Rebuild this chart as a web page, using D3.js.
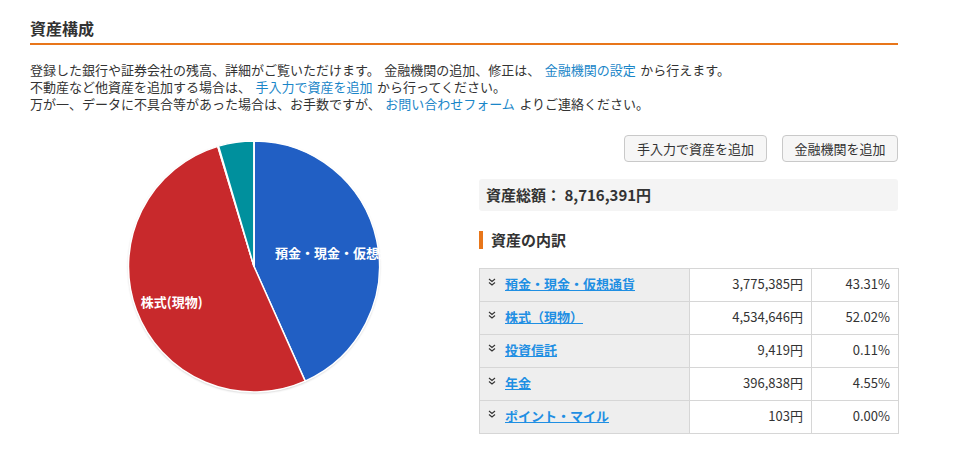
<!DOCTYPE html>
<html>
<head>
<meta charset="utf-8">
<script src="https://cdn.jsdelivr.net/npm/d3@7"></script>
<style>
  html, body { margin: 0; padding: 0; background: #fff; }
  body { width: 968px; height: 467px; position: relative; overflow: hidden;
         font-family: "Noto Sans CJK JP", "Noto Sans", sans-serif; color: #333; }
  .abs { position: absolute; }
  .title { left: 30px; top: 16px; font-size: 16px; font-weight: bold; line-height: 24px; color: #333; }
  .rule { left: 30px; top: 43px; width: 868px; height: 2px; background: #e8761a; }
  .desc { left: 30px; font-size: 13px; line-height: 17px; height: 17px; white-space: pre; }
  .desc span.lk { color: #1a86c8; }
  .desc span.gap { display: inline-block; width: 4.5px; }
  .btn { top: 135px; height: 25px; border: 1px solid #c9c9c9; border-radius: 4px; background: #f6f6f6;
         font-size: 13px; line-height: 25px; text-align: center; box-sizing: content-box; }
  .total { left: 479px; top: 179px; width: 419px; height: 32px; background: #f4f4f4; border-radius: 3px;
           font-size: 15px; font-weight: bold; line-height: 32px; }
  .total span { padding-left: 7px; }
  .sub { left: 479px; top: 231px; height: 18px; border-left: 4px solid #e8761a; padding-left: 8px;
         font-size: 15px; font-weight: bold; line-height: 18px; }
  table { position: absolute; left: 479px; top: 268px; border-collapse: collapse; font-size: 13px; }
  td { border: 1px solid #d6d6d6; height: 33px; padding: 0 0 3px 0; box-sizing: border-box; line-height: 17px; }
  td.c1 { width: 210px; background: #eeeeee; padding-left: 8px; white-space: nowrap; }
  td.c2 { width: 122px; text-align: right; padding-right: 8px; }
  td.c3 { width: 87px; text-align: right; padding-right: 8px; }
  svg.chev { display: inline-block; vertical-align: baseline; margin-right: 9px; position: relative; top: -3px; }
  td a { color: #1f8fe3; font-weight: bold; text-decoration: underline; }
</style>
</head>
<body>
<script>
// ---- data ----
const categories = ["預金・現金・仮想通貨", "株式（現物）", "投資信託", "年金", "ポイント・マイル"];
const pieLabels = ["預金・現金・仮想通貨", "株式(現物)", "投資信託", "年金", "ポイント・マイル"];
const amounts = [3775385, 4534646, 9419, 396838, 103];
const percents = ["43.31%", "52.02%", "0.11%", "4.55%", "0.00%"];
const totalAmount = 8716391;
const sliceColors = ["#215fc4", "#c8292c", "#f0a020", "#00909d", "#7b3fa0"];

const fmt = d3.format(",");
const body = d3.select("body");

// ---- header ----
body.append("div").attr("class", "abs title").text("資産構成");
body.append("div").attr("class", "abs rule");
const descLines = [
  [{t: "登録した銀行や証券会社の残高、詳細がご覧いただけます。"}, {g: 1}, {t: "金融機関の追加、修正は、"}, {g: 1},
   {t: "金融機関の設定", l: 1}, {g: 1}, {t: "から行えます。"}],
  [{t: "不動産など他資産を追加する場合は、"}, {g: 1}, {t: "手入力で資産を追加", l: 1}, {g: 1}, {t: "から行ってください。"}],
  [{t: "万が一、データに不具合等があった場合は、お手数ですが、"}, {g: 1}, {t: "お問い合わせフォーム", l: 1}, {g: 1},
   {t: "よりご連絡ください。"}]
];
body.selectAll("div.desc").data(descLines).enter().append("div")
  .attr("class", "abs desc")
  .style("top", (d, i) => (61 + i * 17) + "px")
  .selectAll("span").data(d => d).enter().append("span")
  .attr("class", d => d.g ? "gap" : (d.l ? "lk" : "tx"))
  .text(d => d.t || "");

// ---- buttons ----
const buttons = [{t: "手入力で資産を追加", x: 624, w: 141}, {t: "金融機関を追加", x: 782, w: 114}];
body.selectAll("div.btn").data(buttons).enter().append("div")
  .attr("class", "abs btn")
  .style("left", d => d.x + "px").style("width", d => d.w + "px")
  .text(d => d.t);

// ---- total ----
body.append("div").attr("class", "abs total").append("span")
  .text("資産総額： " + fmt(totalAmount) + "円");
body.append("div").attr("class", "abs sub").text("資産の内訳");

// ---- table ----
const rows = d3.select("body").append("table").selectAll("tr")
  .data(categories.map((c, i) => ({c, a: amounts[i], p: percents[i]})))
  .enter().append("tr");
const c1 = rows.append("td").attr("class", "c1");
const ch = c1.append("svg").attr("class", "chev").attr("width", 8).attr("height", 8);
ch.append("path").attr("d", "M1,1 L4,3.5 L7,1 M1,4.5 L4,7 L7,4.5")
  .attr("fill", "none").attr("stroke", "#333").attr("stroke-width", 1.1);
c1.append("a").text(d => d.c);
rows.append("td").attr("class", "c2").text(d => fmt(d.a) + "円");
rows.append("td").attr("class", "c3").text(d => d.p);

// ---- pie ----
const cx = 254, cy = 266.5, R = 125.5;
const svg = body.append("svg").attr("class", "abs")
  .style("left", "0px").style("top", "0px")
  .attr("width", 470).attr("height", 467);
const defs = svg.append("defs");
const flt = defs.append("filter").attr("id", "sh").attr("x", "-10%").attr("y", "-10%").attr("width", "120%").attr("height", "120%");
flt.append("feDropShadow").attr("dx", 0).attr("dy", 1).attr("stdDeviation", 1.2).attr("flood-color", "#000").attr("flood-opacity", 0.25);
defs.append("clipPath").attr("id", "clipR").append("rect").attr("x", 0).attr("y", 0).attr("width", 381).attr("height", 467);

const color = d3.scaleOrdinal().domain(categories).range(sliceColors);
const pie = d3.pie().sort(null).value(d => d);
const arcs = pie(amounts);
const arc = d3.arc().innerRadius(0).outerRadius(R);
const labelArc = d3.arc().innerRadius(R * 0.7).outerRadius(R * 0.7);

const g = svg.append("g").attr("transform", `translate(${cx},${cy})`);
g.append("circle").attr("r", R).attr("fill", "#fff").attr("filter", "url(#sh)");
g.selectAll("path.slice").data(arcs).enter().append("path")
  .attr("class", "slice")
  .attr("d", arc)
  .attr("fill", (d, i) => color(categories[i]))
  .attr("stroke", "#fff").attr("stroke-width", 1.5);

const lg = svg.append("g").attr("clip-path", "url(#clipR)")
  .append("g").attr("transform", `translate(${cx},${cy})`);
lg.selectAll("text").data(arcs.filter(d => (d.endAngle - d.startAngle) > 0.5)).enter().append("text")
  .attr("transform", d => { const c = labelArc.centroid(d); return `translate(${c[0]},${c[1] + 5})`; })
  .attr("text-anchor", "middle").attr("dy", "0.35em")
  .attr("fill", "#fff").attr("font-size", 13).attr("font-weight", "bold")
  .attr("font-family", "'Noto Sans CJK JP', sans-serif")
  .text(d => pieLabels[d.index]);
</script>
</body>
</html>
